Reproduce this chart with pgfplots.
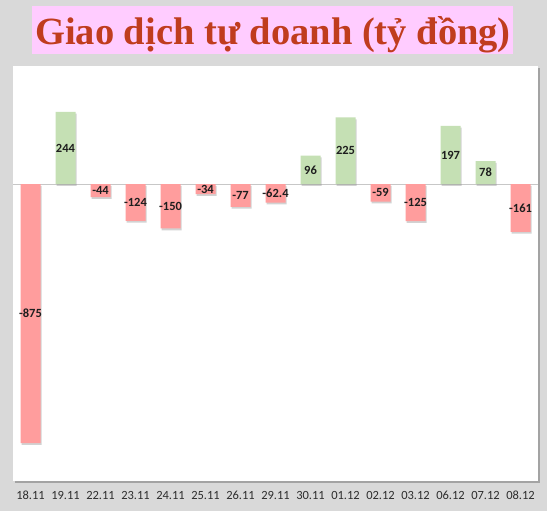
\documentclass[border=0pt]{standalone}
\usepackage{pgfplots}
\pgfplotsset{compat=1.18}
\usepackage{pgfplotstable}
\usepackage{fontspec}
\setmainfont{Carlito}
\newfontfamily\titlefont{Liberation Serif}
\usetikzlibrary{shadows}
\definecolor{bg}{RGB}{217,217,217}
\definecolor{titlebg}{RGB}{255,204,255}
\definecolor{titlefg}{RGB}{192,60,30}
\definecolor{negc}{RGB}{255,157,157}
\definecolor{posc}{RGB}{197,224,180}
\definecolor{labc}{RGB}{30,30,30}
\definecolor{tickc}{RGB}{45,45,45}

\pgfplotstableread{
x y lab
0 -875 -875
1 244 244
2 -44 -44
3 -124 -124
4 -150 -150
5 -34 -34
6 -77 -77
7 -62.4 -62.4
8 96 96
9 225 225
10 -59 -59
11 -125 -125
12 197 197
13 78 78
14 -161 -161
}\alldata

\pgfplotstableread{
x y
0 -875
2 -44
3 -124
4 -150
5 -34
6 -77
7 -62.4
10 -59
11 -125
14 -161
}\negdata

\pgfplotstableread{
x y
1 244
8 96
9 225
12 197
13 78
}\posdata

\begin{document}
\begin{tikzpicture}[x=1bp,y=1bp]
\fill[bg] (0,0) rectangle (547,511);
\fill[titlebg] (32,457) rectangle (513,505);
\node[anchor=base, text=titlefg, inner sep=0pt, font=\titlefont\bfseries\fontsize{38.5bp}{40bp}\selectfont] at (273,466) {Giao dịch tự doanh (tỷ đồng)};
\begin{axis}[
  at={(13bp,30bp)}, anchor=south west,
  width=525bp, height=415bp, scale only axis,
  xmin=-0.5, xmax=14.5, ymin=-1003, ymax=399,
  axis line style={draw=none},
  axis background/.style={fill=white, drop shadow={shadow xshift=2bp, shadow yshift=-2bp, opacity=0.6}},
  xtick={0,...,14},
  xticklabels={18.11,19.11,22.11,23.11,24.11,25.11,26.11,29.11,30.11,01.12,02.12,03.12,06.12,07.12,08.12},
  xticklabel style={font=\fontsize{12.5bp}{14bp}\selectfont, text=tickc, anchor=center, yshift=-14.5bp},
  major tick length=0pt,
  ytick=\empty,
  extra y ticks={0}, extra y tick labels={},
  extra y tick style={grid=major, major grid style={black!22, line width=0.7bp}, major tick length=0pt},
  clip=false,
]
\addplot[ybar, bar width=20bp, bar shift=0pt, fill=negc, draw=none,
  drop shadow={shadow xshift=1bp, shadow yshift=-1.8bp, opacity=0.35}] table[x=x,y=y] {\negdata};
\addplot[ybar, bar width=20bp, bar shift=0pt, fill=posc, draw=none,
  drop shadow={shadow xshift=1bp, shadow yshift=-1.8bp, opacity=0.35}] table[x=x,y=y] {\posdata};
\addplot[only marks, mark=none,
  nodes near coords, point meta=explicit symbolic,
  every node near coord/.append style={anchor=center, inner sep=0pt, text=labc, opacity=1, text opacity=1, font=\bfseries\fontsize{12.5bp}{14bp}\selectfont}]
  table[x=x, y expr=\thisrow{y}/2, meta=lab] {\alldata};
\end{axis}
\end{tikzpicture}
\end{document}
